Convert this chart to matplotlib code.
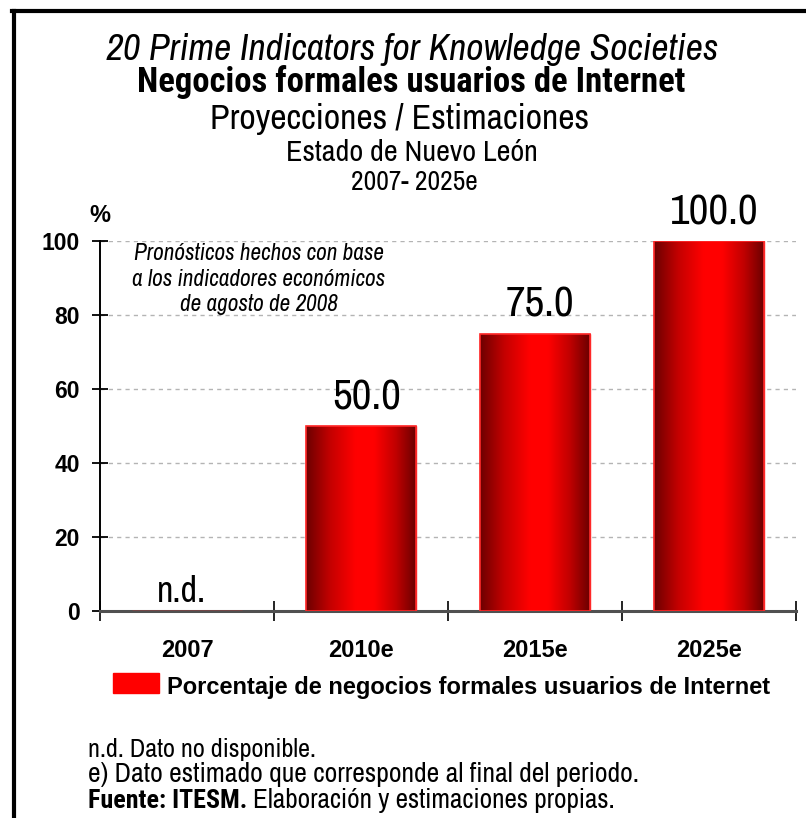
import numpy as np
import matplotlib
matplotlib.use("Agg")
import matplotlib.pyplot as plt
from matplotlib.colors import LinearSegmentedColormap
from matplotlib.patches import Rectangle

# -------------------------------
# Data
# -------------------------------
categories = ["2007", "2010e", "2015e", "2025e"]
values = [np.nan, 50.0, 75.0, 100.0]
value_labels = ["n.d.", "50.0", "75.0", "100.0"]
yticks = [0, 20, 40, 60, 80, 100]
legend_label = "Porcentaje de negocios formales usuarios de Internet"

titles = [
    "20 Prime Indicators for Knowledge Societies",
    "Negocios formales usuarios de Internet",
    "Proyecciones / Estimaciones",
    "Estado de Nuevo León",
    "2007- 2025e",
]
note_lines = [
    "Pronósticos hechos con base",
    "a los indicadores económicos",
    "de agosto de 2008",
]
footnotes = [
    "n.d. Dato no disponible.",
    "e) Dato estimado que corresponde al final del periodo.",
]
source_bold = "Fuente: ITESM."
source_rest = "Elaboración y estimaciones propias."

NARROW = ["Archivo Narrow", "Roboto Condensed", "DejaVu Sans"]
NARROW_BOLD = ["Roboto Condensed", "Fira Sans Condensed", "DejaVu Sans"]
SANS = ["Liberation Sans", "DejaVu Sans"]

W, H = 806, 818
fig = plt.figure(figsize=(W / 100, H / 100), dpi=100)
renderer = fig.canvas.get_renderer()


def px(x, y):
    # pixel position (from top-left) -> figure fraction
    return x / W, 1 - y / H


def fit(t, width):
    # scale the font so the text spans the given number of pixels
    for _ in range(2):
        w = t.get_window_extent(renderer).width
        t.set_fontsize(t.get_fontsize() * width / w)
    return t


ax = fig.add_axes([100 / W, 1 - 611 / H, 696 / W, 370 / H])

x = np.arange(len(categories))
heights = np.nan_to_num(values)
bars = ax.bar(x, heights, width=0.63, color="red", edgecolor="#ff2020",
              linewidth=1, zorder=3)

# cylinder-like shading: dark edges, bright red a bit right of centre
cmap = LinearSegmentedColormap.from_list(
    "cyl", [(0, "#6c0000"), (0.22, "#c40000"), (0.45, "#ff0000"),
            (0.62, "#ff0000"), (0.82, "#c00000"), (1, "#6c0000")])
grad = np.linspace(0, 1, 256).reshape(1, -1)
for b in bars:
    if b.get_height() <= 0:
        continue
    x0, w, h = b.get_x(), b.get_width(), b.get_height()
    im = ax.imshow(grad, cmap=cmap, aspect="auto", extent=(x0, x0 + w, 0, h),
                   zorder=3.5, interpolation="bicubic")
    im.set_clip_path(Rectangle((x0, 0), w, h, transform=ax.transData))
    ax.add_patch(Rectangle((x0, 0), w, h, fill=False, edgecolor="#ff2a2a",
                           linewidth=1.2, zorder=4))

# value labels
for i, lab in enumerate(value_labels):
    if np.isnan(values[i]):
        ax.text(x[i] - 0.03, 2.4, lab, ha="center", va="baseline",
                fontsize=26, family=NARROW, zorder=5)
    else:
        ax.text(x[i] + 0.03, values[i] + 4.5, lab, ha="center",
                va="baseline", fontsize=31, family=NARROW, zorder=5)

ax.set_xlim(-0.5, 3.5)
ax.set_ylim(0, 100)
ax.set_yticks(yticks)
ax.set_yticklabels([str(t) for t in yticks], fontsize=16.5,
                   fontweight="bold", family=SANS)
ax.set_xticks(x)
ax.set_xticklabels(categories, fontsize=17, fontweight="bold", family=SANS)
ax.tick_params(axis="x", length=0, pad=20)
ax.set_xticks(np.arange(-0.5, 4, 1), minor=True)
ax.tick_params(axis="x", which="minor", direction="inout", length=14,
               width=1.2, color="black")
ax.tick_params(axis="y", direction="inout", length=11, width=1.3, pad=9)

ax.yaxis.grid(True, linestyle=(0, (3, 3)), color="#b4b4b4", linewidth=1)
ax.set_axisbelow(True)
for s in ["top", "right"]:
    ax.spines[s].set_visible(False)
ax.spines["left"].set_linewidth(1.4)
ax.spines["bottom"].set_color("#505050")
ax.spines["bottom"].set_linewidth(2.2)

fig.text(*px(100, 222), "%", ha="center", va="baseline", fontsize=17,
         fontweight="bold", family=SANS)

# forecast note inside the plot
note_y = [260, 286, 311]
note_texts = [fig.text(*px(259, yy), line, ha="center", va="baseline",
                       fontsize=14, style="italic", family=NARROW)
              for line, yy in zip(note_lines, note_y)]
fit(note_texts[0], 250)
for t in note_texts[1:]:
    t.set_fontsize(note_texts[0].get_fontsize())

# titles
title_spec = [  # centre x, baseline y, width, style, weight
    (412, 60, 612, "italic", "normal"),
    (411, 92, 548, "normal", "bold"),
    (400, 129, 380, "normal", "normal"),
    (412, 161, 252, "normal", "normal"),
    (414, 190, 126, "normal", "normal"),
]
for txt, (cx, by, wd, st, wt) in zip(titles, title_spec):
    fam = NARROW_BOLD if wt == "bold" else NARROW
    t = fig.text(*px(cx, by), txt, ha="center", va="baseline", fontsize=22,
                 style=st, fontweight=wt, family=fam)
    fit(t, wd)

# legend
fig.patches.append(Rectangle(px(113, 693), 46 / W, 20 / H,
                             transform=fig.transFigure, color="red"))
t = fig.text(*px(167, 694), legend_label, ha="left", va="baseline",
             fontsize=17, fontweight="bold", family=SANS)
fit(t, 603)

# footnotes
t = fig.text(*px(88, 757), footnotes[0], ha="left", va="baseline",
             fontsize=16, family=NARROW)
fit(t, 228)
t = fig.text(*px(88, 782), footnotes[1], ha="left", va="baseline",
             fontsize=16, family=NARROW)
fit(t, 550)
t = fig.text(*px(88, 808), source_bold, ha="left", va="baseline",
             fontsize=16, fontweight="bold", family=NARROW_BOLD)
fit(t, 160)
bb = t.get_window_extent(renderer)
t = fig.text((bb.x1 + 6) / W, 1 - 808 / H, source_rest, ha="left",
             va="baseline", fontsize=16, family=NARROW)
fit(t, 362)

# frame
fig.add_artist(plt.Line2D([14 / W, 14 / W], [0, 1 - 11 / H],
                          transform=fig.transFigure, color="black", lw=3))
fig.add_artist(plt.Line2D([12 / W, 1], [1 - 11 / H, 1 - 11 / H],
                          transform=fig.transFigure, color="black", lw=3))

fig.savefig("out.png", dpi=100)
